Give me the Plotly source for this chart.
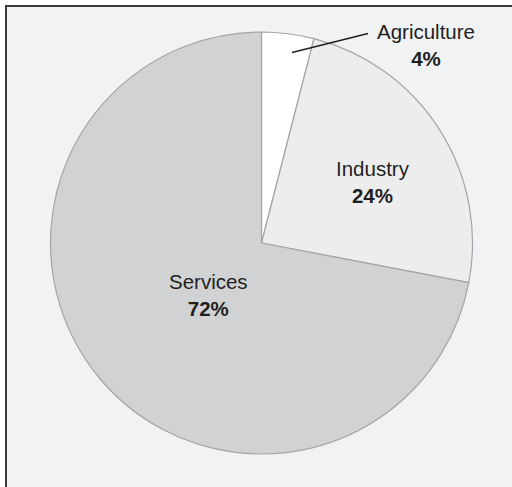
import plotly.graph_objects as go

# Employment share by sector
sectors = ["Agriculture", "Industry", "Services"]
shares = [4, 24, 72]
slice_colors = ["#ffffff", "#ededee", "#d1d2d4"]

W, H = 512, 487


def px(x):
    return x / W


def py(y):
    return 1 - y / H


fig = go.Figure(
    go.Pie(
        labels=sectors,
        values=shares,
        sort=False,
        direction="clockwise",
        rotation=0,
        marker=dict(colors=slice_colors, line=dict(color="#a3a5a8", width=1.2)),
        textinfo="none",
        hoverinfo="label+percent",
        showlegend=False,
        domain=dict(x=[px(50.5), px(472.5)], y=[py(454), py(32)]),
    )
)

# Panel background with a dark rule along the left and top edges
fig.add_shape(
    type="rect", xref="paper", yref="paper",
    x0=px(6), x1=px(W + 10), y0=py(H + 10), y1=py(6),
    fillcolor="#f1f2f4", line=dict(color="#3a3a3a", width=2), layer="below",
)

# Leader line for the small slice
fig.add_shape(
    type="line", xref="paper", yref="paper",
    x0=px(292), y0=py(52.5), x1=px(368), y1=py(33.5),
    line=dict(color="#231f20", width=1.3),
)

label_pos = {
    "Agriculture": (425.5, 45),
    "Industry": (372.5, 182),
    "Services": (208, 295),
}

for name, val in zip(sectors, shares):
    x, y = label_pos[name]
    fig.add_annotation(
        x=px(x), y=py(y), xref="paper", yref="paper",
        text=f"{name}<br><b>{val}%</b>",
        showarrow=False, xanchor="center", yanchor="middle",
        font=dict(family="Liberation Sans, Arial, sans-serif", size=20.5, color="#231f20"),
    )

fig.update_layout(
    width=W, height=H,
    margin=dict(l=0, r=0, t=0, b=0),
    paper_bgcolor="#ffffff",
    plot_bgcolor="#ffffff",
)

fig.write_html("out.html")
